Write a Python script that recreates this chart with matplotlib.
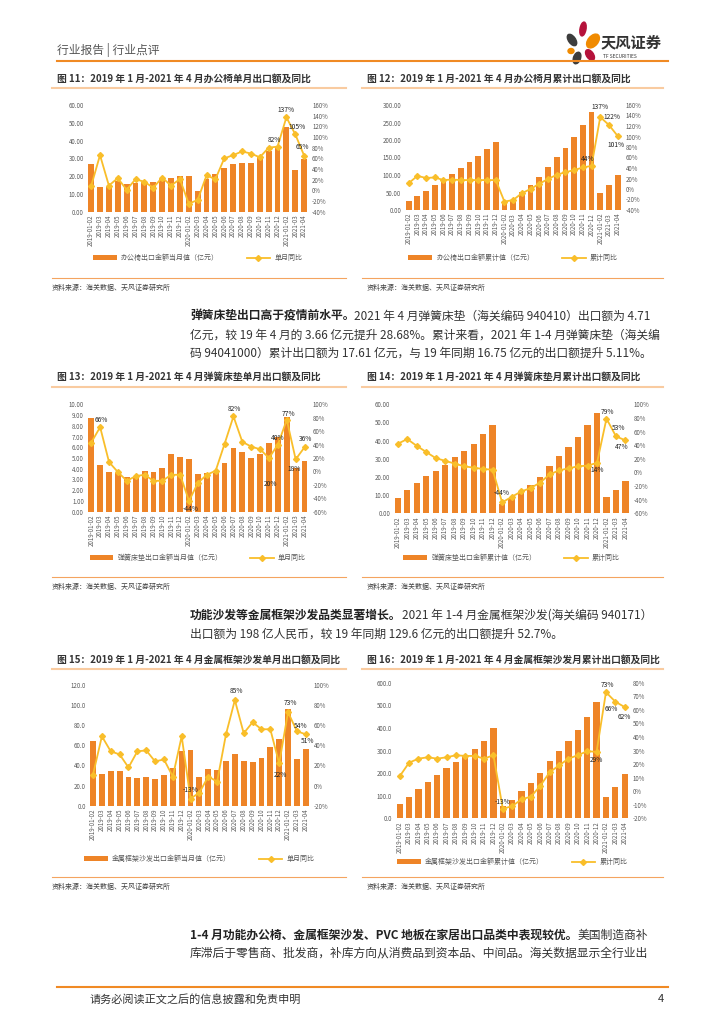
import numpy as np
import matplotlib
matplotlib.use('Agg')
import matplotlib.pyplot as plt
from matplotlib.patches import Ellipse, Patch
from matplotlib.lines import Line2D

plt.rcParams['font.family'] = ['Noto Sans CJK SC', 'DejaVu Sans']

W, H = 724, 1024
BAR = '#EE8427'
LINE = '#F9BE2A'
GRAY = '#595959'

# x axis categories
months = ['2019-01-02', '2019-03', '2019-04', '2019-05', '2019-06', '2019-07',
          '2019-08', '2019-09', '2019-10', '2019-11', '2019-12',
          '2020-01-02', '2020-03', '2020-04', '2020-05', '2020-06', '2020-07',
          '2020-08', '2020-09', '2020-10', '2020-11', '2020-12',
          '2021-01-02', '2021-03', '2021-04']

# office chairs, single month (亿元) and yoy (%)
chair_month = [26.8, 14.1, 14.1, 17.4, 15.4, 16.3, 16.5, 16.5, 18.4, 18.9, 20.1,
               20.1, 11.8, 18.2, 21.0, 24.6, 26.8, 27.6, 27.6, 31.0, 34.1, 36.6,
               47.5, 23.5, 29.6]
chair_month_yoy = [8, 66, 9, 23, 1, 21, 16, 5, 24, 9, 21,
                   -25, -18, 28, 21, 60, 66, 73, 69, 62, 80, 82,
                   137, 105, 65]
# office chairs, cumulative
chair_cum = [26.8, 40.9, 55.0, 72.4, 87.8, 104.1, 120.6, 137.1, 155.5, 174.4, 194.5,
             21.0, 30.0, 50.1, 71.1, 95.7, 122.5, 150.1, 177.7, 208.7, 242.8, 279.4,
             47.5, 71.0, 100.6]
chair_cum_yoy = [11, 25, 21, 22, 17, 18, 17, 17, 17, 17, 17,
                 -24, -21, -8, 0, 10, 19, 27, 32, 36, 41, 44,
                 137, 122, 101]

# spring mattresses
mattress_month = [8.76, 4.32, 3.66, 3.57, 3.2, 3.2, 3.8, 3.7, 4.1, 5.37, 5.06,
                  4.9, 3.54, 3.63, 3.63, 4.5, 5.96, 5.53, 5.0, 5.37, 6.4, 7.0,
                  8.85, 4.05, 4.71]
mattress_month_yoy = [43, 66, 14, -1, -14, -7, -5, -14, -14, -5, -5,
                      -44, -17, -5, 1, 41, 82, 44, 37, 33, 20, 40,
                      77, 18, 36]
mattress_cum = [8.6, 13.0, 16.75, 20.4, 23.5, 26.6, 30.8, 34.5, 38.3, 43.7, 48.8,
                5.0, 8.6, 11.6, 15.6, 19.8, 26.0, 31.6, 36.3, 42.0, 48.4, 55.4,
                8.8, 13.0, 17.61]
mattress_cum_yoy = [42, 49, 39, 30, 21, 17, 13, 9, 7, 5, 4,
                    -44, -36, -28, -23, -15, -3, 3, 6, 9, 10, 14,
                    79, 53, 47]

# metal frame sofas
sofa_month = [64.0, 31.5, 34.1, 34.1, 28.8, 27.5, 28.8, 26.2, 30.5, 37.1, 54.7,
              55.4, 28.8, 36.5, 35.5, 44.7, 51.4, 44.7, 43.4, 47.7, 58.0, 66.6,
              96.0, 46.0, 56.0]
sofa_month_yoy = [11, 49, 34, 31, 18, 34, 35, 24, 26, 9, 49,
                  -13, -7, 9, 4, 51, 85, 52, 63, 56, 56, 22,
                  73, 54, 51]
sofa_cum = [63, 96, 128, 162, 192, 223, 249, 276, 307, 344, 398,
            56, 81, 121, 158, 202, 255, 300, 342, 391, 447, 516,
            96, 140, 198]
sofa_cum_yoy = [11, 21, 24, 25, 24, 25, 26.5, 26, 26, 24, 26.5,
                -13, -11, -6, -4, 4, 14, 19, 24, 26.5, 29.5, 29,
                73, 66, 62]

fig = plt.figure(figsize=(W / 100, H / 100), dpi=100)
page = fig.add_axes([0, 0, 1, 1])
page.set_xlim(0, W)
page.set_ylim(H, 0)
page.axis('off')


def box(x0, y0, x1, y1):
    return [x0 / W, 1 - y1 / H, (x1 - x0) / W, (y1 - y0) / H]


def chart(rect, vals, yoy, ylim, ystep, ydec, rlim, rstep, names, notes, leg_y):
    ax = fig.add_axes(box(*rect))
    x = np.arange(len(vals))
    ax.bar(x, vals, width=0.66, color=BAR, zorder=2)
    ax.set_xlim(-0.5, len(vals) - 0.5)
    ax.set_ylim(*ylim)
    ax.set_yticks(np.arange(ylim[0], ylim[1] + ystep / 2, ystep))
    ax.yaxis.set_major_formatter(lambda v, p: f'{v:.{ydec}f}')
    ax.set_xticks(x)
    ax.set_xticklabels(months, rotation=90)
    ax.tick_params(axis='both', length=0, labelsize=4.4, labelcolor=GRAY, pad=2)

    ax2 = ax.twinx()
    ax2.plot(x, yoy, color=LINE, lw=1.3, marker='D', ms=3, zorder=3)
    ax2.set_ylim(*rlim)
    ax2.set_yticks(np.arange(rlim[0], rlim[1] + 1, rstep))
    ax2.yaxis.set_major_formatter(lambda v, p: f'{v:.0f}%')
    ax2.tick_params(axis='y', length=0, labelsize=4.4, labelcolor=GRAY, pad=2.5)
    for a in (ax, ax2):
        for s in a.spines.values():
            s.set_visible(False)
    for i, txt, dx, dy in notes:
        ax2.annotate(txt, (i, yoy[i]), xytext=(dx, dy), textcoords='offset points',
                     ha='center', va='center', fontsize=4.8, color='#222222')

    handles = [Patch(facecolor=BAR),
               Line2D([], [], color=LINE, lw=1.3, marker='D', ms=3)]
    fig.legend(handles, names, loc='center',
               bbox_to_anchor=((rect[0] + rect[2]) / 2 / W, 1 - leg_y / H),
               ncol=2, frameon=False, fontsize=5, labelcolor=GRAY,
               handlelength=3.4, handleheight=0.55, columnspacing=4, handletextpad=0.6)


chart((86.7, 105, 308.6, 211.7), chair_month, chair_month_yoy, (0, 60), 10, 2,
      (-40, 160), 20, ['办公椅出口金额当月值（亿元）', '单月同比'],
      [(21, '82%', -2, 5), (22, '137%', 0, 5.5), (23, '105%', 1, 5.5), (24, '65%', -1, 6)], 258)
chart((404.3, 105, 622, 210), chair_cum, chair_cum_yoy, (0, 300), 50, 2,
      (-40, 160), 20, ['办公椅出口金额累计值（亿元）', '累计同比'],
      [(21, '44%', -3, 5), (22, '137%', 0, 7.5), (23, '122%', 2, 5.5), (24, '101%', -1, -6.5)], 258)
chart((86.8, 404.3, 309, 511.7), mattress_month, mattress_month_yoy, (0, 10), 1, 2,
      (-60, 100), 20, ['弹簧床垫出口金额当月值（亿元）', '单月同比'],
      [(1, '66%', 1, 5), (11, '-44%', 1, -5.5), (16, '82%', 1, 5), (20, '20%', 1, -19),
       (21, '40%', 0, 5), (22, '77%', 1, 4), (23, '18%', -1, -7), (24, '36%', 1, 6)], 558)
chart((393, 404.3, 630.2, 513.3), mattress_cum, mattress_cum_yoy, (0, 60), 10, 2,
      (-60, 100), 20, ['弹簧床垫出口金额累计值（亿元）', '累计同比'],
      [(11, '-44%', 0, 6.5), (21, '14%', 0, -5), (22, '79%', 1, 5), (23, '53%', 2, 6),
       (24, '47%', -3, -5)], 558)
chart((88.6, 685, 310.2, 805.7), sofa_month, sofa_month_yoy, (0, 120), 20, 1,
      (-20, 100), 20, ['金属框架沙发出口金额当月值（亿元）', '单月同比'],
      [(11, '-13%', 0, 6), (16, '85%', 1, 6.5), (21, '22%', 1, -8), (22, '73%', 2, 6.5),
       (23, '54%', 3, 4), (24, '51%', 1, -5)], 859)
chart((395, 682.7, 629.4, 818.3), sofa_cum, sofa_cum_yoy, (0, 600), 100, 1,
      (-20, 80), 10, ['金属框架沙发出口金额累计值（亿元）', '累计同比'],
      [(11, '-13%', 0, 5), (21, '29%', 0, -6), (22, '73%', 1, 5), (23, '66%', -3, -5),
       (24, '62%', 0, -7)], 862)

# header
page.text(57, 50, '行业报告 | 行业点评', fontsize=8.5, color='#555555', va='center')
page.plot([57, 668], [61, 61], color='#F08A24', lw=1.5)
for cx, cy, w, h, ang, col in [(583, 29, 6, 14, 10, '#B5123B'), (572, 40, 7, 13, -35, '#3D3D3D'),
                               (593, 41, 10, 16, 40, '#F08A00'), (571, 51, 6, 5, 0, '#F08A00'),
                               (590, 55, 7, 12, -35, '#B5123B'), (577, 58, 7, 12, 20, '#3D3D3D')]:
    page.add_patch(Ellipse((cx, cy), w, h, angle=ang, color=col))
page.text(601, 42, '天风证券', fontsize=11, fontweight='bold', color='#333333', va='center')
page.text(603, 56, 'TF SECURITIES', fontsize=3.5, color='#333333', va='center')

titles = [(57, 79, '图 11：2019 年 1 月-2021 年 4 月办公椅单月出口额及同比'),
          (367, 79, '图 12：2019 年 1 月-2021 年 4 月办公椅月累计出口额及同比'),
          (57, 377, '图 13：2019 年 1 月-2021 年 4 月弹簧床垫单月出口额及同比'),
          (367, 377, '图 14：2019 年 1 月-2021 年 4 月弹簧床垫月累计出口额及同比'),
          (57, 660, '图 15：2019 年 1 月-2021 年 4 月金属框架沙发单月出口额及同比'),
          (367, 660, '图 16：2019 年 1 月-2021 年 4 月金属框架沙发月累计出口额及同比')]
for tx, ty, t in titles:
    page.text(tx, ty, t, fontsize=7, fontweight='bold', color='#333333', va='center')

for uy in (88, 387, 669):
    page.plot([52, 346], [uy, uy], color='#F9CBA0', lw=1.5)
    page.plot([362, 663], [uy, uy], color='#F9CBA0', lw=1.5)
for sy in (278, 577, 877):
    page.plot([52, 346], [sy, sy], color='#F4A460', lw=0.8)
    page.plot([362, 663], [sy, sy], color='#F4A460', lw=0.8)
    page.text(52, sy + 10, '资料来源：海关数据、天风证券研究所', fontsize=5, color='#404040', va='center')
    page.text(367, sy + 10, '资料来源：海关数据、天风证券研究所', fontsize=5, color='#404040', va='center')

renderer = fig.canvas.get_renderer()


def para(y, bold, rest):
    x = 190
    if bold:
        t = page.text(x, y, bold, fontsize=8.5, fontweight='bold', color='#222222', va='center')
        x = t.get_window_extent(renderer).x1
    page.text(x, y, rest, fontsize=8.5, color='#333333', va='center')


para(316, '弹簧床垫出口高于疫情前水平。', '2021 年 4 月弹簧床垫（海关编码 940410）出口额为 4.71')
para(335, '', '亿元，较 19 年 4 月的 3.66 亿元提升 28.68%。累计来看，2021 年 1-4 月弹簧床垫（海关编')
para(353, '', '码 94041000）累计出口额为 17.61 亿元，与 19 年同期 16.75 亿元的出口额提升 5.11%。')
para(615, '功能沙发等金属框架沙发品类显著增长。', '2021 年 1-4 月金属框架沙发(海关编码 940171）')
para(634, '', '出口额为 198 亿人民币，较 19 年同期 129.6 亿元的出口额提升 52.7%。')
para(935, '1-4 月功能办公椅、金属框架沙发、PVC 地板在家居出口品类中表现较优。', '美国制造商补')
para(953, '', '库滞后于零售商、批发商，补库方向从消费品到资本品、中间品。海关数据显示全行业出')

# footer
page.plot([57, 668], [987, 987], color='#F08A24', lw=1.5)
page.text(90, 999, '请务必阅读正文之后的信息披露和免责申明', fontsize=8, color='#333333', va='center')
page.text(664, 999, '4', fontsize=8, color='#333333', va='center', ha='right')

fig.savefig('out.png', dpi=100)
